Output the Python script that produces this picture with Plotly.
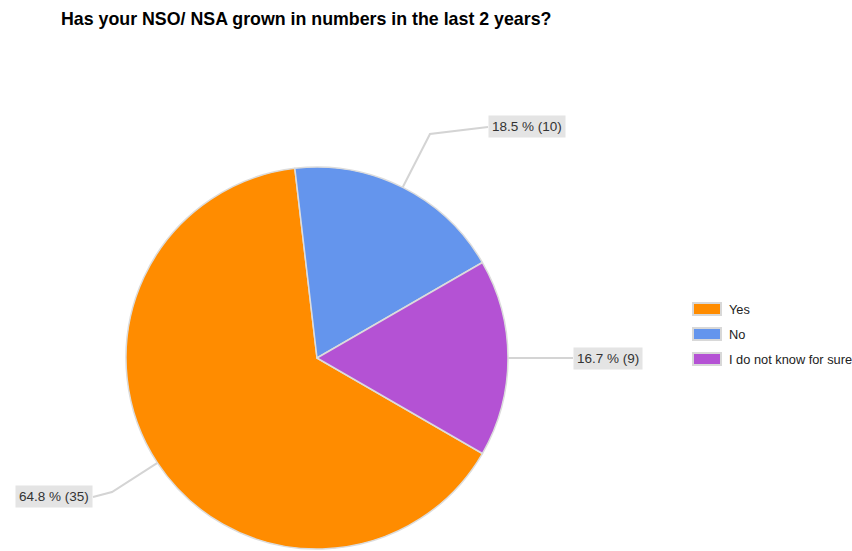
import math
import plotly.graph_objects as go

# ---- data ----
categories = ["Yes", "No", "I do not know for sure"]
counts = [35, 10, 9]
percents = [64.8, 18.5, 16.7]
colors = ["#FF8C00", "#6495ED", "#B452D4"]
title_text = "Has your NSO/ NSA grown in numbers in the last 2 years?"

# ---- layout constants ----
W, H = 852, 551
CX, CY, R = 317, 358, 191
ROTATION = 120
FONT = "Arial, Liberation Sans, sans-serif"

def px(x):
    return x / W

def py(y):
    return 1 - y / H

fig = go.Figure()
fig.add_trace(go.Pie(
    labels=categories,
    values=counts,
    sort=False,
    direction="clockwise",
    rotation=ROTATION,
    textinfo="none",
    hoverinfo="label+value+percent",
    marker=dict(colors=colors, line=dict(color="#dcdcdc", width=1.5)),
    domain=dict(x=[px(CX - R), px(CX + R)], y=[py(CY + R), py(CY - R)]),
    showlegend=False,
))

# leader lines + label boxes (positions are layout)
elbows = [(112, 492), (430, 134), (560, 358)]
label_pos = [(54, 496), (527, 127), (608, 358)]
line_end = [(93, 497), (488, 127), (573, 358)]

total = sum(counts)
start = ROTATION
shapes = []
annotations = []
for i, v in enumerate(counts):
    span = 360 * v / total
    mid = math.radians(start + span / 2)
    start += span
    ex = CX + R * math.sin(mid)
    ey = CY - R * math.cos(mid)
    bx, by = elbows[i]
    lx, ly = line_end[i]
    path = f"M {px(ex)} {py(ey)} L {px(bx)} {py(by)} L {px(lx)} {py(ly)}"
    shapes.append(dict(type="path", xref="paper", yref="paper", path=path,
                       line=dict(color="#d4d4d4", width=2), layer="below"))
    tx, ty = label_pos[i]
    annotations.append(dict(
        x=px(tx), y=py(ty), xref="paper", yref="paper",
        text=f"{percents[i]:.1f} % ({v})", showarrow=False,
        font=dict(family=FONT, size=13.5, color="#333333"),
        bgcolor="#e4e4e4", borderpad=3, xanchor="center", yanchor="middle",
    ))

# custom legend
leg_x0, leg_x1 = 693, 721
leg_y = [309, 334, 359]
for i, cat in enumerate(categories):
    y = leg_y[i]
    shapes.append(dict(type="rect", xref="paper", yref="paper",
                       x0=px(leg_x0), x1=px(leg_x1), y0=py(y + 6), y1=py(y - 6),
                       fillcolor=colors[i], line=dict(color="#d8d8d8", width=2)))
    annotations.append(dict(
        x=px(727), y=py(y), xref="paper", yref="paper", text=cat, showarrow=False,
        font=dict(family=FONT, size=12.8, color="#222222"),
        xanchor="left", yanchor="middle",
    ))

# title
annotations.append(dict(
    x=px(59), y=py(19), xref="paper", yref="paper", text=f"<b>{title_text}</b>",
    showarrow=False, font=dict(family=FONT, size=17.8, color="#000000"),
    xanchor="left", yanchor="middle",
))

fig.update_layout(
    width=W, height=H,
    margin=dict(l=0, r=0, t=0, b=0),
    paper_bgcolor="white", plot_bgcolor="white",
    shapes=shapes, annotations=annotations,
)

fig.write_html("out.html")
